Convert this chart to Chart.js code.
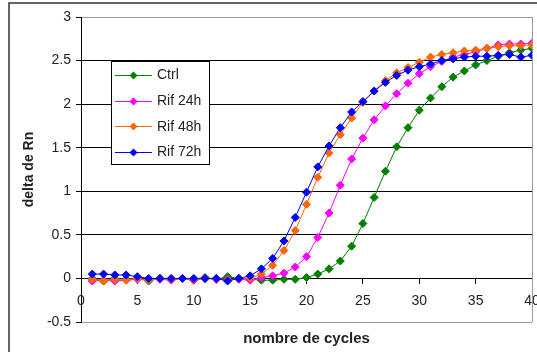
<!DOCTYPE html>
<html>
<head>
<meta charset="utf-8">
<script src="https://cdn.jsdelivr.net/npm/chart.js@4/dist/chart.umd.min.js"></script>
<style>
  html, body { margin: 0; padding: 0; background: #fff; }
  #c { display: block; }
</style>
</head>
<body>
<canvas id="c" width="537" height="352"></canvas>
<script>
// ---- data ----
const cycles = [1,2,3,4,5,6,7,8,9,10,11,12,13,14,15,16,17,18,19,20,21,22,23,24,25,26,27,28,29,30,31,32,33,34,35,36,37,38,39,40];
const seriesNames = ['Ctrl', 'Rif 24h', 'Rif 48h', 'Rif 72h'];
const ctrl  = [0.00,-0.03,0.00,-0.01,0.00,-0.03,0.00,-0.01,0.00,-0.02,0.01,-0.01,0.02,0.00,-0.01,-0.02,-0.02,-0.01,-0.01,0.01,0.05,0.11,0.20,0.37,0.63,0.93,1.23,1.51,1.73,1.93,2.07,2.20,2.31,2.38,2.45,2.50,2.55,2.59,2.62,2.64];
const rif24 = [-0.03,-0.02,-0.03,-0.02,-0.01,-0.01,-0.01,-0.02,0.00,-0.02,0.00,-0.01,-0.01,-0.01,-0.02,0.01,0.03,0.06,0.13,0.25,0.47,0.75,1.07,1.37,1.61,1.82,1.98,2.12,2.24,2.35,2.43,2.49,2.54,2.57,2.60,2.64,2.68,2.69,2.69,2.70];
const rif48 = [-0.01,-0.03,-0.01,-0.02,0.00,-0.02,0.00,-0.01,0.00,-0.01,0.00,0.00,-0.02,0.00,0.00,0.05,0.15,0.32,0.55,0.85,1.16,1.44,1.65,1.84,2.02,2.15,2.27,2.36,2.42,2.48,2.54,2.57,2.59,2.61,2.62,2.64,2.66,2.67,2.67,2.68];
const rif72 = [0.05,0.05,0.04,0.04,0.02,0.00,0.00,0.00,0.00,0.00,0.00,0.00,-0.03,0.00,0.03,0.11,0.23,0.43,0.70,0.99,1.28,1.52,1.73,1.91,2.03,2.15,2.25,2.33,2.39,2.43,2.46,2.50,2.52,2.54,2.55,2.55,2.56,2.57,2.54,2.56];
const seriesColors = ['#008000', '#FF00FF', '#FF6600', '#0000FF'];
const xTickStep = 5;
const yTickStep = 0.5;

const FONT = '"Liberation Sans", Arial, sans-serif';
const TXT = '#222';

function pts(vals) { return cycles.map((c, i) => ({ x: c, y: vals[i] })); }
const allSeries = [ctrl, rif24, rif48, rif72];

const datasets = allSeries.map((vals, i) => ({
  label: seriesNames[i],
  data: pts(vals),
  borderColor: seriesColors[i],
  backgroundColor: seriesColors[i],
  pointBackgroundColor: seriesColors[i],
  pointBorderColor: seriesColors[i],
  borderWidth: 1,
  pointStyle: 'rectRot',
  pointRadius: 4,
  pointBorderWidth: 1,
  tension: 0,
  order: allSeries.length - i
}));

const framePlugin = {
  id: 'frame',
  beforeDraw(chart) {
    const ctx = chart.ctx;
    ctx.save();
    ctx.fillStyle = '#fff';
    ctx.fillRect(0, 0, chart.width, chart.height);
    ctx.strokeStyle = '#333';
    ctx.lineWidth = 1.5;
    ctx.beginPath();
    ctx.moveTo(9, chart.height + 2);
    ctx.lineTo(9, 3);
    ctx.lineTo(chart.width + 2, 3);
    ctx.stroke();
    ctx.restore();
  },
  afterDatasetsDraw(chart) {
    const ctx = chart.ctx;
    const a = chart.chartArea;
    ctx.save();
    // plot area border (right)
    ctx.strokeStyle = '#999';
    ctx.lineWidth = 1;
    ctx.beginPath();
    ctx.moveTo(Math.round(a.right) + 0.5, a.top);
    ctx.lineTo(Math.round(a.right) + 0.5, a.bottom);
    ctx.stroke();

    // legend
    const bx = 111, by = 61, bw = 98, bh = 103;
    ctx.fillStyle = '#fff';
    ctx.fillRect(bx, by, bw, bh);
    ctx.strokeStyle = '#000';
    ctx.strokeRect(bx + 0.5, by + 0.5, bw, bh);
    chart.data.datasets.forEach((ds, i) => {
      const y = 75 + i * 25.7;
      ctx.strokeStyle = ds.borderColor;
      ctx.lineWidth = 1;
      ctx.beginPath();
      ctx.moveTo(115, Math.round(y) + 0.5);
      ctx.lineTo(152, Math.round(y) + 0.5);
      ctx.stroke();
      const mx = 133.5, my = Math.round(y) + 0.5, r = 4;
      ctx.fillStyle = ds.borderColor;
      ctx.beginPath();
      ctx.moveTo(mx, my - r);
      ctx.lineTo(mx + r, my);
      ctx.lineTo(mx, my + r);
      ctx.lineTo(mx - r, my);
      ctx.closePath();
      ctx.fill();
      ctx.fillStyle = TXT;
      ctx.font = '14px ' + FONT;
      ctx.textBaseline = 'middle';
      ctx.textAlign = 'left';
      ctx.fillText(ds.label, 157, y + 0.5);
    });
    ctx.restore();
  }
};

new Chart(document.getElementById('c'), {
  type: 'line',
  data: { datasets },
  plugins: [framePlugin],
  options: {
    responsive: false,
    animation: false,
    layout: { padding: { top: 17, right: 5, left: 0, bottom: 0 } },
    plugins: {
      legend: { display: false },
      tooltip: { enabled: false },
      title: { display: false }
    },
    scales: {
      x: {
        type: 'linear',
        min: 0, max: 40,
        position: { y: 0 },
        ticks: { stepSize: xTickStep, color: TXT, font: { family: FONT, size: 14 }, padding: 9, maxRotation: 0 },
        grid: { drawOnChartArea: false, drawTicks: true, tickLength: 5, color: '#000' },
        border: { display: true, color: '#000', width: 1 },
        afterFit(s) { s.paddingLeft = 0; s.paddingRight = 0; }
      },
      x2: {
        type: 'linear',
        min: 0, max: 40,
        position: 'bottom',
        ticks: { display: false },
        grid: { display: false },
        border: { display: false },
        title: { display: true, text: 'nombre de cycles', color: TXT, font: { family: FONT, size: 15, weight: 'bold' }, padding: { top: 0, bottom: 4 } },
        afterFit(s) { s.height = 30; s.paddingLeft = 0; s.paddingRight = 0; }
      },
      y: {
        type: 'linear',
        min: -0.5, max: 3,
        ticks: { stepSize: yTickStep, color: TXT, font: { family: FONT, size: 14 }, padding: 5, callback: (v) => String(v) },
        grid: {
          color: (c) => (c.tick && (c.tick.value === 3 || c.tick.value === -0.5)) ? '#999' : '#000',
          tickColor: '#000',
          tickLength: 5,
          lineWidth: 1
        },
        border: { display: true, color: '#000', width: 1 },
        title: { display: true, text: 'delta de Rn', color: TXT, font: { family: FONT, size: 14, weight: 'bold' }, padding: { top: 21, bottom: 0 } },
        afterFit(s) { s.width = 81; }
      }
    }
  }
});
</script>
</body>
</html>
